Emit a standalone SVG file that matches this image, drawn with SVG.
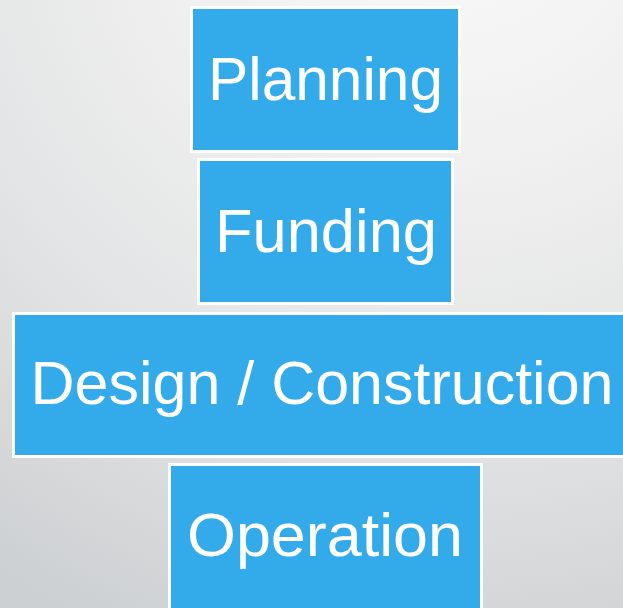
<svg xmlns="http://www.w3.org/2000/svg" width="623" height="608" viewBox="0 0 623 608">
<defs>
<radialGradient id="bg" cx="450" cy="-120" r="820" gradientUnits="userSpaceOnUse">
<stop offset="0" stop-color="#fafafa"/>
<stop offset="0.35" stop-color="#f0f0f0"/>
<stop offset="0.65" stop-color="#e3e4e5"/>
<stop offset="1" stop-color="#cdd0d2"/>
</radialGradient>
<style>
.box{fill:#33abea;stroke:#ffffff;stroke-width:3}
.lbl{font-family:"Liberation Sans",Arial,sans-serif;font-size:61px;fill:#ffffff;text-anchor:middle}
</style>
</defs>
<rect x="0" y="0" width="623" height="608" fill="url(#bg)"/>
<g id="connectors"/>
<g id="planning">
<rect class="box" x="191.5" y="7.5" width="268" height="144"/>
<text class="lbl" x="325.5" y="100" textLength="235" lengthAdjust="spacingAndGlyphs">Planning</text>
</g>
<g id="funding">
<rect class="box" x="198.5" y="159.5" width="254" height="144"/>
<text class="lbl" x="326" y="252" textLength="222" lengthAdjust="spacingAndGlyphs">Funding</text>
</g>
<g id="design">
<rect class="box" x="13.5" y="313.5" width="620" height="143"/>
<text class="lbl" x="322" y="404" textLength="583" lengthAdjust="spacingAndGlyphs">Design / Construction</text>
</g>
<g id="operation">
<rect class="box" x="169.5" y="464.5" width="312" height="160"/>
<text class="lbl" x="325" y="556" textLength="276" lengthAdjust="spacingAndGlyphs">Operation</text>
</g>
</svg>
